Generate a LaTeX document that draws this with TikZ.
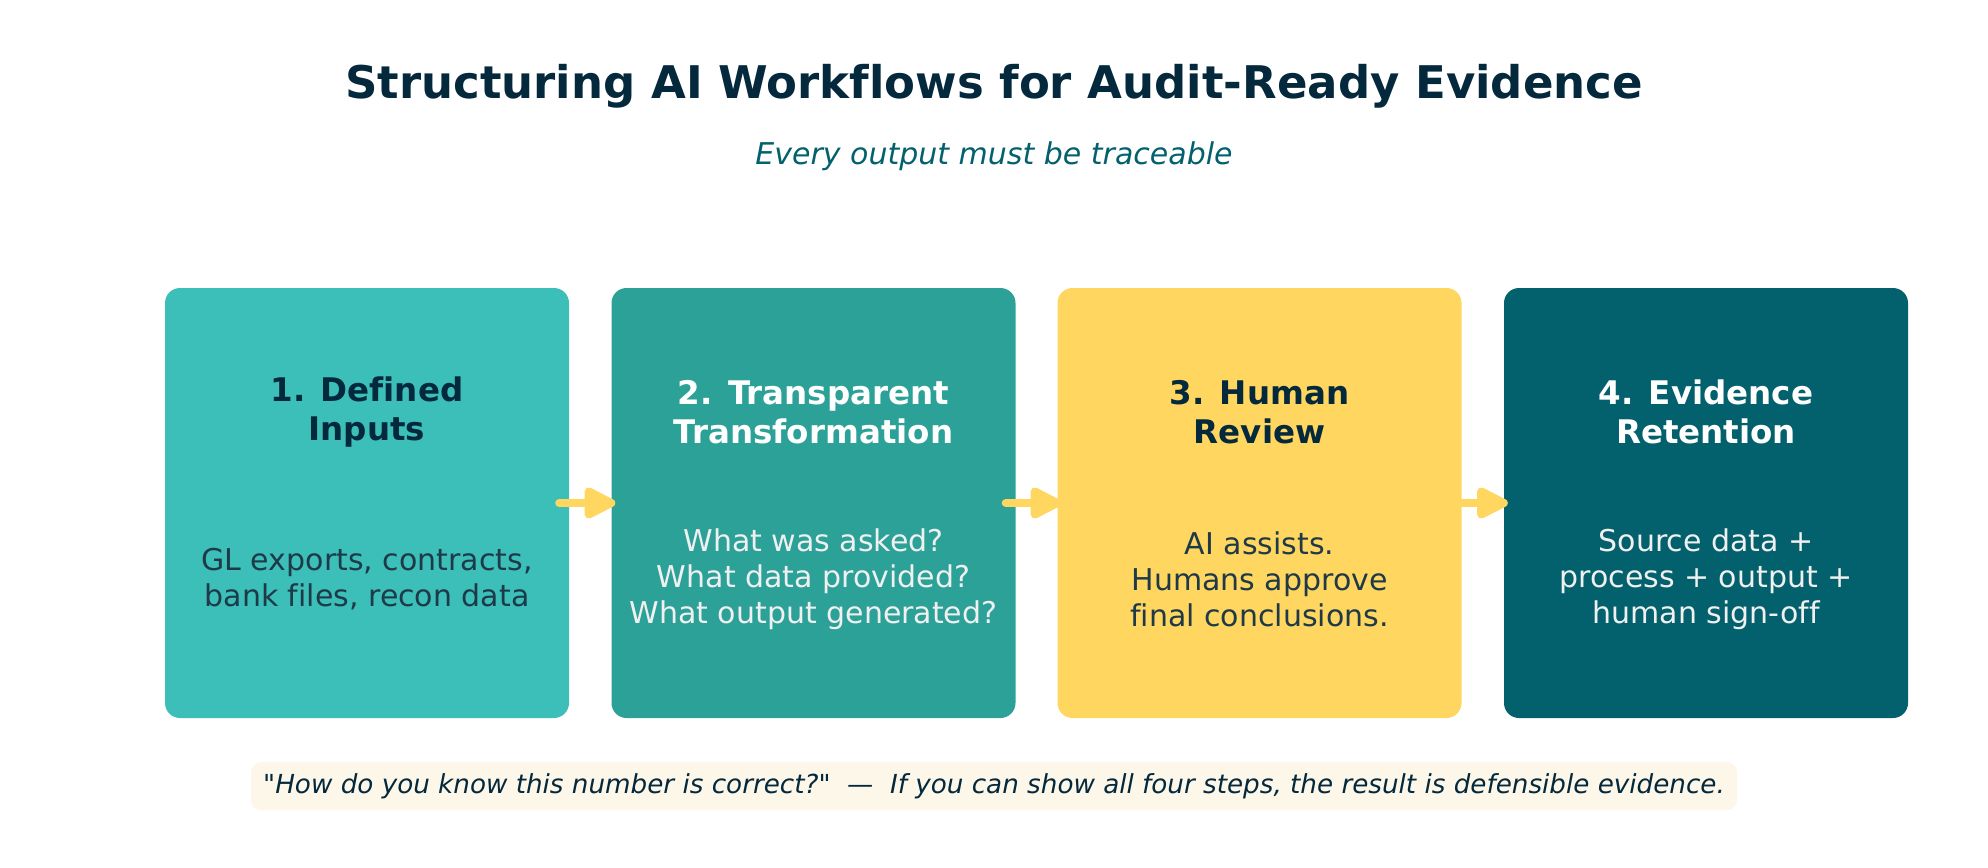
\documentclass[tikz,border=0pt]{standalone}
\usepackage{fontspec}
\setmainfont{DejaVu Sans}[Ligatures={NoCommon,TeXOff}]
\usetikzlibrary{arrows.meta,positioning}

\definecolor{navy}{HTML}{04283C}
\definecolor{tealA}{HTML}{3BBFB8}
\definecolor{tealB}{HTML}{2CA198}
\definecolor{sun}{HTML}{FFD65F}
\definecolor{deepteal}{HTML}{02616D}
\definecolor{cream}{HTML}{FDF7E9}
\definecolor{bodydark}{HTML}{1E3A48}

\tikzset{
  stepbox/.style={rounded corners=15pt, minimum width=404pt, minimum height=430pt, inner sep=0pt},
  head/.style={align=center, font=\fontsize{32.5}{39}\selectfont\bfseries},
  body/.style={align=center, font=\fontsize{30}{36}\selectfont},
  flow/.style={line width=8pt, line cap=round, sun, -{Triangle[length=36pt,width=34pt,round]}}
}

\begin{document}
\begin{tikzpicture}[x=1pt,y=1pt]
    \useasboundingbox (0,0) rectangle (1988,-867);
    % Title
    \node[navy, font=\fontsize{45}{50}\selectfont\bfseries] (title) at (994,-86) {Structuring AI Workflows for Audit-Ready Evidence};
    \node[deepteal, font=\fontsize{30}{34}\selectfont\itshape] (sub) at (994,-156) {Every output must be traceable};

    % Step boxes
    \node[stepbox, fill=tealA] (b1) at (367,-503) {};
    \node[stepbox, fill=tealB] (b2) at (813.5,-503) {};
    \node[stepbox, fill=sun] (b3) at (1259.5,-503) {};
    \node[stepbox, fill=deepteal] (b4) at (1706,-503) {};

    % Headings
    \node[head, navy] (h1) at ([yshift=-124pt]b1.north) {1. Defined\\Inputs};
    \node[head, white] (h2) at ([yshift=-124pt]b2.north) {2. Transparent\\Transformation};
    \node[head, navy] (h3) at ([yshift=-124pt]b3.north) {3. Human\\Review};
    \node[head, white] (h4) at ([yshift=-124pt]b4.north) {4. Evidence\\Retention};

    % Body texts
    \node[body, bodydark] (t1) at ([yshift=-76pt]b1.center) {GL exports, contracts,\\bank files, recon data};
    \node[body, white!94!black] (t2) at ([yshift=-76pt]b2.center) {What was asked?\\What data provided?\\What output generated?};
    \node[body, bodydark] (t3) at ([yshift=-76pt]b3.center) {AI assists.\\Humans approve\\final conclusions.};
    \node[body, white!94!black] (t4) at ([yshift=-76pt]b4.center) {Source data +\\process + output +\\human sign-off};

    % Arrows
    \draw[flow] ([xshift=-10pt]b1.east) -- ([xshift=4pt]b2.west);
    \draw[flow] ([xshift=-10pt]b2.east) -- ([xshift=4pt]b3.west);
    \draw[flow] ([xshift=-10pt]b3.east) -- ([xshift=4pt]b4.west);

    % Footer
    \node[fill=cream, rounded corners=10pt, minimum width=1486pt, minimum height=48pt, text=navy,
          font=\fontsize{26.2}{30}\selectfont\itshape] (note) at (994,-786)
          {"How do you know this number is correct?"~~—~~If you can show all four steps, the result is defensible evidence.};
\end{tikzpicture}
\end{document}
